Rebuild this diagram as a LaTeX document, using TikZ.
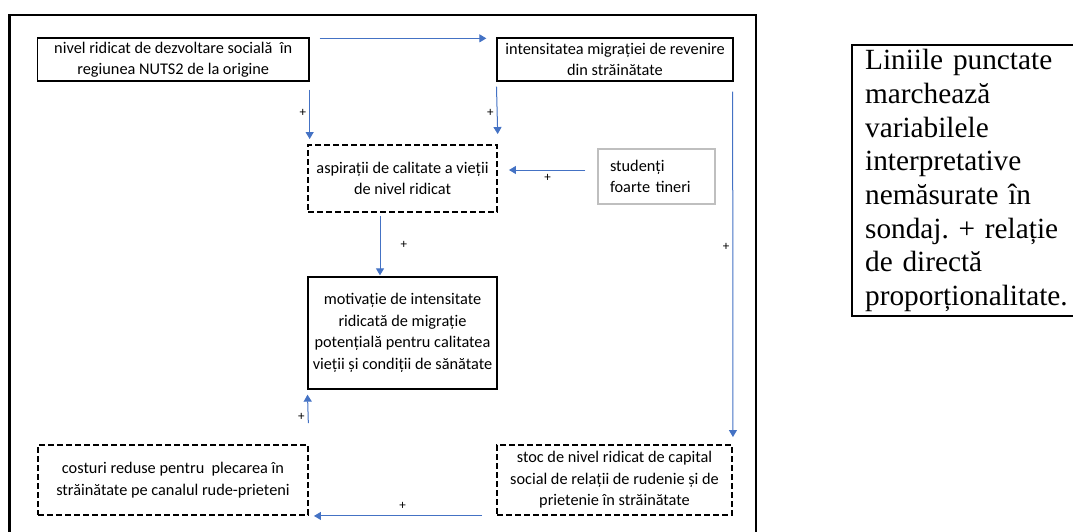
\documentclass[tikz,border=0pt]{standalone}
\usepackage{fontspec}
\setmainfont{Carlito}
\newfontfamily\legendfont{Liberation Serif}
\usepackage{tikz}
\usetikzlibrary{arrows.meta}
\definecolor{arrowblue}{HTML}{4472C4}
\frenchspacing

\begin{document}
\begin{tikzpicture}[x=1pt, y=-1pt,
        every node/.style={font=\fontsize{16.3}{21.5}\selectfont, align=center, inner sep=0pt},
        solidbox/.style={draw=black, line width=1.3pt},
        dashbox/.style={draw=black, line width=1.9pt, dash pattern=on 6pt off 3pt},
        graybox/.style={draw=black!25, line width=1.2pt},
        arr/.style={draw=arrowblue, line width=1pt, -{Triangle[length=7pt,width=8pt]}},
        plus/.style={font=\fontsize{13}{14}\selectfont, text=black}]

    \useasboundingbox (0,0) rectangle (1073,532);
    \clip (0,0) rectangle (1073,532);

    % outer frame
    \draw[line width=2.2pt] (9.5,540) |- (756,15) -- (756,540);

    % variables
    \node[solidbox, minimum width=271.5pt, minimum height=43pt] (dezvoltare) at (173.25,59.5)
        {nivel ridicat de dezvoltare socială~ în\\regiunea NUTS2 de la origine};
    \node[solidbox, minimum width=236pt, minimum height=43pt] (revenire) at (615,59.5)
        {intensitatea migrației de revenire\\din străinătate};
    \node[dashbox, minimum width=189pt, minimum height=67pt] (aspiratii) at (402.5,178.5)
        {aspirații de calitate a vieții\\de nivel ridicat};
    \node[graybox, text width=93pt, inner xsep=12pt, minimum height=55pt, align=left] (studenti) at (656.5,176.5)
        {studenți\\foarte tineri};
    \node[solidbox, minimum width=189pt, minimum height=112pt] (motivatie) at (402.5,333)
        {motivație de intensitate\\ridicată de migrație\\potențială pentru calitatea\\vieții și condiții de sănătate};
    \node[dashbox, minimum width=270pt, minimum height=70pt] (costuri) at (173,480)
        {costuri reduse pentru~ plecarea în\\străinătate pe canalul rude-prieteni};
    \node[dashbox, minimum width=235pt, minimum height=70pt] (stoc) at (614.5,480)
        {stoc de nivel ridicat de capital\\social de relații de rudenie și de\\prietenie în străinătate};

    % legend
    \node[draw=black, line width=2.2pt, anchor=north west, text width=215pt, inner xsep=13pt,
          minimum height=271pt, align=left, font=\legendfont\fontsize{29.3}{33.7}\selectfont] (legenda) at (851,44)
        {Liniile punctate\\marchează\\variabilele\\interpretative\\nemăsurate în\\sondaj. + relație\\de directă\\proporționalitate.};

    % relations
    \draw[arr, shorten <=10pt, shorten >=10pt] ([yshift=-1pt]dezvoltare.north east) -- ([yshift=-1pt]revenire.north west);
    \draw[arr, shorten <=8pt, shorten >=5pt] (dezvoltare.south east) -- (dezvoltare.south east |- aspiratii.north)
        node[plus, midway, left=3pt] (p1) {+};
    \draw[arr, shorten <=5pt, shorten >=10pt] (revenire.south west) -- (aspiratii.north east)
        node[plus, midway, left=3pt] (p2) {+};
    \draw[arr, shorten <=12pt, shorten >=11pt] ([yshift=6.5pt]studenti.west) -- ([yshift=6.5pt]studenti.west -| aspiratii.east)
        node[plus, midway, below=4pt] (p3) {+};
    \draw[arr, shorten <=10pt, shorten >=7pt] ([xshift=-1pt]revenire.south east) -- (stoc.north east)
        node[plus, pos=0.455, left=3pt] (p4) {+};
    \draw[arr, shorten <=3pt, shorten >=1pt] ([xshift=-22.5pt]aspiratii.south) -- ([xshift=-22.5pt]motivatie.north)
        node[plus, midway, right=20pt] (p5) {+};
    \draw[arr, shorten <=21pt, shorten >=5pt] (costuri.north east) -- (motivatie.south west)
        node[plus, midway, left=3pt] (p6) {+};
    \draw[arr, shorten <=14pt, shorten >=5pt] (stoc.south west) -- (costuri.south east)
        node[plus, midway, above=6pt] (p7) {+};
\end{tikzpicture}
\end{document}
